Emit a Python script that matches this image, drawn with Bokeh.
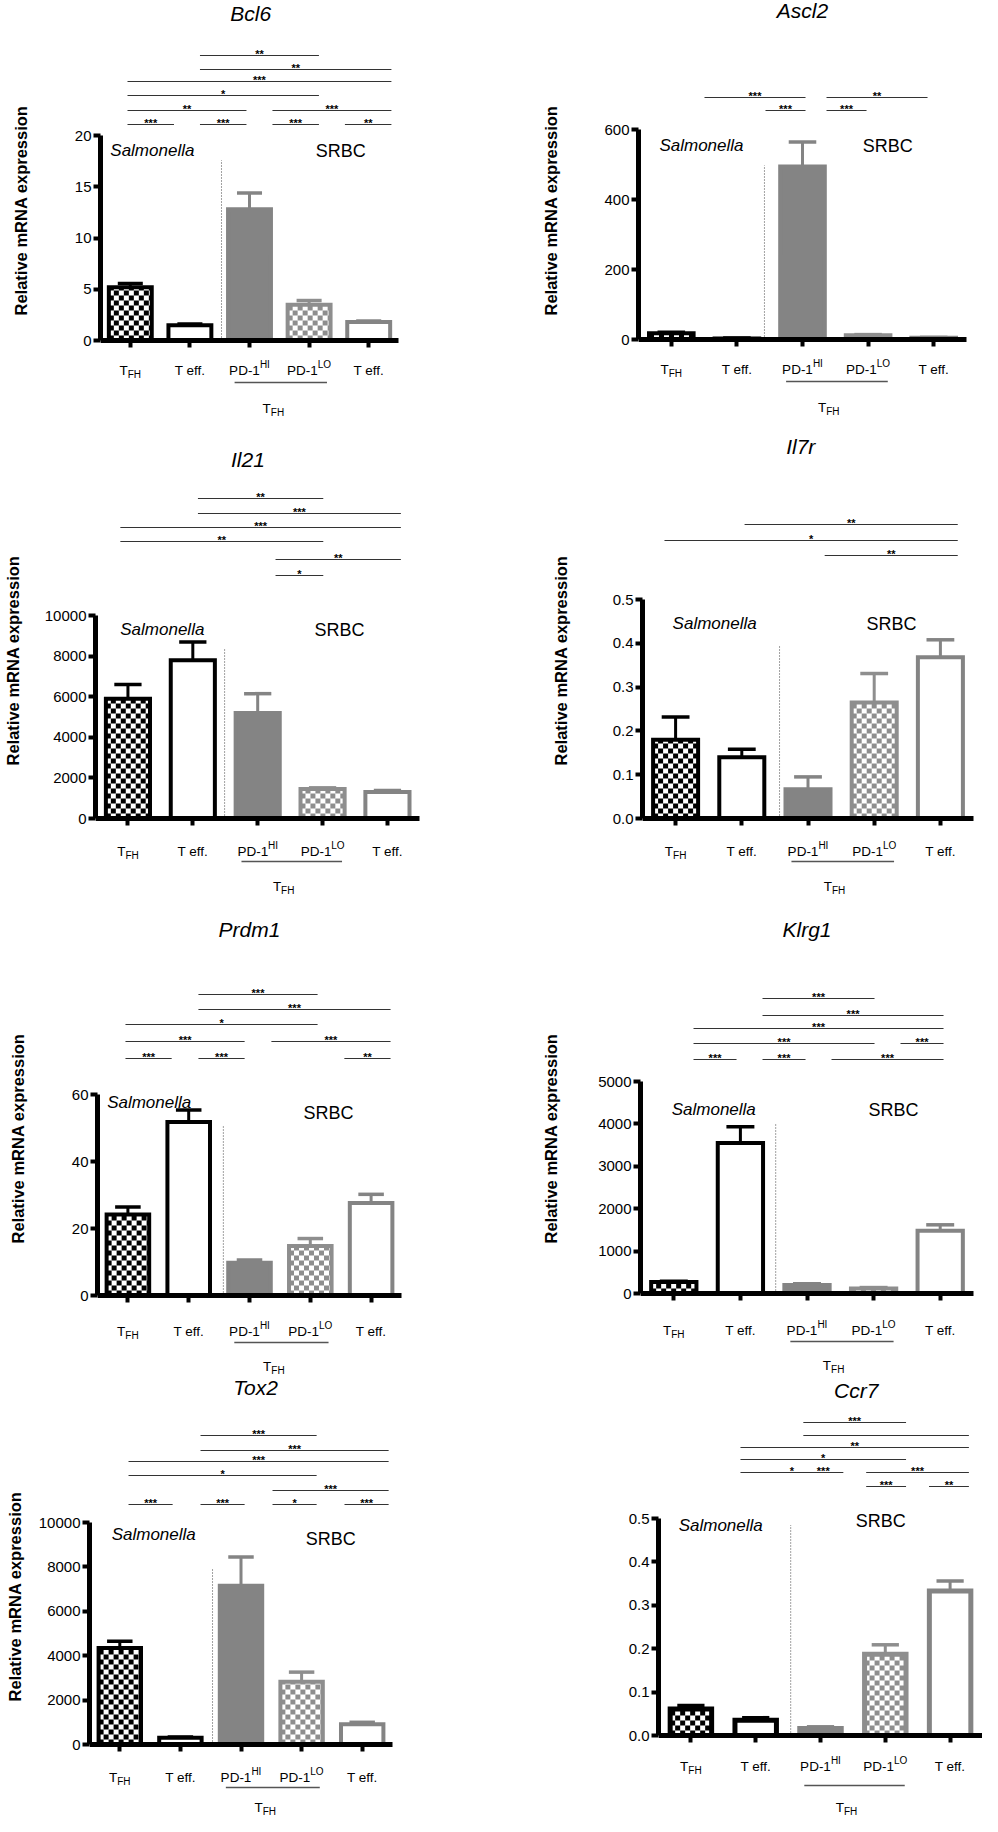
import numpy as np
from bokeh.plotting import figure
from bokeh.models import Range1d, FixedTicker
from bokeh.layouts import column, row
from bokeh.core.properties import value
from bokeh.embed import file_html
from bokeh.resources import INLINE

FONT = "Liberation Sans"
BLACK = "#000000"
GRAY = "#848484"
LIGHT = "#8e8e8e"

# ------------------------------------------------------------------ data
group_main = ["T", "T eff.", "PD-1", "PD-1", "T eff."]
group_sub = ["FH", "", "", "", ""]
group_sup = ["", "", "HI", "LO", ""]
infection_labels = ["Salmonella", "SRBC"]
bracket_main, bracket_sub = "T", "FH"
y_axis_label = "Relative mRNA expression"

bcl6_mean = [5.2, 1.5, 12.8, 3.5, 1.8]
bcl6_err = [0.35, 0.1, 1.6, 0.4, 0.1]
bcl6_ticks = [0, 5, 10, 15, 20]
bcl6_tick_labels = ["0", "5", "10", "15", "20"]
bcl6_comparisons = [(1, 3, "**"), (1, 4, "**"), (0, 4, "***"), (0, 3, "*"), (0, 2, "**"),
                    (2, 4, "***"), (0, 1, "***"), (1, 2, "***"), (2, 3, "***"), (3, 4, "**")]

ascl2_mean = [18, 3, 494, 12, 5]
ascl2_err = [3, 1, 70, 2, 1]
ascl2_ticks = [0, 200, 400, 600]
ascl2_tick_labels = ["0", "200", "400", "600"]
ascl2_comparisons = [(0, 2, "***"), (2, 4, "**"), (1, 2, "***"), (2, 3, "***")]

il21_mean = [5900, 7800, 5200, 1450, 1300]
il21_err = [700, 900, 950, 60, 80]
il21_ticks = [0, 2000, 4000, 6000, 8000, 10000]
il21_tick_labels = ["0", "2000", "4000", "6000", "8000", "10000"]
il21_comparisons = [(1, 3, "**"), (1, 4, "***"), (0, 4, "***"), (0, 3, "**"), (2, 4, "**"), (2, 3, "*")]

il7r_mean = [0.18, 0.14, 0.067, 0.265, 0.368]
il7r_err = [0.052, 0.018, 0.028, 0.066, 0.04]
il7r_ticks = [0.0, 0.1, 0.2, 0.3, 0.4, 0.5]
il7r_tick_labels = ["0.0", "0.1", "0.2", "0.3", "0.4", "0.5"]
il7r_comparisons = [(1, 4, "**"), (0, 4, "*"), (2, 4, "**")]

prdm1_mean = [24.2, 51.8, 9.8, 14.8, 27.6]
prdm1_err = [2.2, 3.6, 0.8, 2.2, 2.6]
prdm1_ticks = [0, 20, 40, 60]
prdm1_tick_labels = ["0", "20", "40", "60"]
prdm1_comparisons = [(1, 3, "***"), (1, 4, "***"), (0, 3, "*"), (0, 2, "***"), (2, 4, "***"),
                     (0, 1, "***"), (1, 2, "***"), (3, 4, "**")]

klrg1_mean = [270, 3550, 200, 120, 1480]
klrg1_err = [20, 380, 30, 20, 140]
klrg1_ticks = [0, 1000, 2000, 3000, 4000, 5000]
klrg1_tick_labels = ["0", "1000", "2000", "3000", "4000", "5000"]
klrg1_comparisons = [(1, 3, "***"), (1, 4, "***"), (0, 4, "***"), (0, 3, "***"), (3, 4, "***"),
                     (0, 1, "***"), (1, 2, "***"), (2, 4, "***")]

tox2_mean = [4350, 300, 7150, 2830, 910]
tox2_err = [300, 40, 1300, 430, 90]
tox2_ticks = [0, 2000, 4000, 6000, 8000, 10000]
tox2_tick_labels = ["0", "2000", "4000", "6000", "8000", "10000"]
tox2_comparisons = [(1, 3, "***"), (1, 4, "***"), (0, 4, "***"), (0, 3, "*"), (2, 4, "***"),
                    (0, 1, "***"), (1, 2, "***"), (2, 3, "*"), (3, 4, "***")]

ccr7_mean = [0.061, 0.035, 0.016, 0.187, 0.333]
ccr7_err = [0.008, 0.006, 0.004, 0.022, 0.023]
ccr7_ticks = [0.0, 0.1, 0.2, 0.3, 0.4, 0.5]
ccr7_tick_labels = ["0.0", "0.1", "0.2", "0.3", "0.4", "0.5"]
ccr7_comparisons = [(1, 3, "***"), (1, 4, ""), (0, 4, "**"), (0, 3, "*"), (0, 2, "*"),
                    (1, 2, "***"), (2, 4, "***"), (2, 3, "***"), (3, 4, "**")]

# ------------------------------------------------------------------ styling / layout
group_style = ["checker", "open", "solid", "checker", "open"]
group_color = [BLACK, BLACK, GRAY, LIGHT, GRAY]

COL_X0 = [0, 508]
COL_W = [496, 486]
ROW_Y0 = [2, 424, 906, 1388]
ROW_H = [420, 480, 476, 440]
CELL = 5.0
LABEL_FS = 13.5
SMALL_FS = 10.0

W = {"T": .611, "F": .611, "H": .722, "P": .667, "D": .722, "-": .333, "1": .556, "I": .278,
     "L": .556, "O": .778, " ": .278, "e": .556, "f": .278, ".": .278, "0": .556, "2": .556,
     "3": .556, "4": .556, "5": .556, "6": .556, "8": .556}


def tw(s, fs):
    return sum(W.get(c, .556) for c in s) * fs


def make_panel(name, mean, err, ticks, tick_labels, comps, lay):
    fx0, fw = COL_X0[lay["col"]], COL_W[lay["col"]]
    fy0, fh = ROW_Y0[lay["row"]], ROW_H[lay["row"]]
    sp = lay["spacing"]
    top = ticks[-1]
    u = top / (lay["y0"] - lay["ytop"])

    def Y(ref_y):
        return (lay["y0"] - ref_y) * u

    left = lay["axis_x"] - fx0
    x0 = -0.5
    x1 = -0.5 + (fw - left) / sp
    p = figure(width=fw, height=fh, x_range=Range1d(x0, x1), y_range=Range1d(Y(fy0 + fh), Y(fy0)),
               output_backend="svg", toolbar_location=None, min_border=0, min_border_left=left,
               min_border_right=0, min_border_top=0, min_border_bottom=0,
               outline_line_color=None, background_fill_color="white", border_fill_color="white")
    p.title.visible = False
    p.xgrid.visible = False
    p.ygrid.visible = False

    # axes
    xa = p.xaxis[0]
    xa.fixed_location = 0
    xa.bounds = (-0.5, 4.5)
    xa.ticker = FixedTicker(ticks=[0, 1, 2, 3, 4])
    xa.major_label_overrides = {i: "" for i in range(5)}
    xa.axis_line_width = 5
    xa.axis_line_color = BLACK
    xa.major_tick_out = 7
    xa.major_tick_in = 0
    xa.major_tick_line_width = 4
    xa.minor_tick_line_color = None

    ya = p.yaxis[0]
    ya.bounds = (0, top)
    ya.ticker = FixedTicker(ticks=ticks)
    ya.major_label_overrides = {t: l for t, l in zip(ticks, tick_labels)}
    ya.axis_line_width = 5
    ya.axis_line_color = BLACK
    ya.major_tick_out = 7
    ya.major_tick_in = 0
    ya.major_tick_line_width = 4
    ya.minor_tick_line_color = None
    ya.major_label_standoff = 2
    ya.major_label_text_font = FONT
    ya.major_label_text_font_size = "15px"
    ya.major_label_text_color = BLACK
    if lay["ylab_d"] is not None:
        maxw = max(tw(l, 15) for l in tick_labels)
        ya.axis_label = y_axis_label
        ya.axis_label_text_font = FONT
        ya.axis_label_text_font_style = "bold"
        ya.axis_label_text_font_size = "16.5px"
        ya.axis_label_text_color = BLACK
        ya.axis_label_standoff = int(round(lay["ylab_d"] - 7 - 2 - maxw - 10))

    idx = list(range(len(mean)))
    bw = lay["bar_w"]

    # error bars
    for i in idx:
        c = group_color[i]
        p.segment(x0=[i], y0=[mean[i]], x1=[i], y1=[mean[i] + err[i]], line_color=c, line_width=3)
        p.segment(x0=[i - 0.21], y0=[mean[i] + err[i]], x1=[i + 0.21], y1=[mean[i] + err[i]],
                  line_color=c, line_width=3.5)

    # bar fills
    fills = ["white" if s != "solid" else group_color[i] for i, s in enumerate(group_style)]
    p.vbar(x=idx, top=mean, bottom=0, width=bw, fill_color=fills, line_color=None)

    # checker patterns
    cx = CELL / sp
    cy = CELL * u
    for i in idx:
        if group_style[i] != "checker":
            continue
        xl = i - bw / 2
        ncol = int(np.ceil(bw / cx))
        nrow = int(np.ceil(mean[i] / cy))
        L, R, B, T = [], [], [], []
        for r in range(nrow):
            for c in range(ncol):
                if (r + c) % 2 == 0:
                    l = xl + c * cx
                    b = r * cy
                    L.append(l)
                    R.append(min(l + cx, xl + bw))
                    B.append(b)
                    T.append(min(b + cy, mean[i]))
        if L:
            p.quad(left=L, right=R, bottom=B, top=T, fill_color=group_color[i], line_color=None)

    # bar outlines
    p.vbar(x=idx, top=mean, bottom=0, width=bw, fill_color=None, line_color=group_color,
           line_width=lay.get("outline", 4), line_join="miter")

    # dotted separator
    dx, dfrac = lay["dot"]
    p.segment(x0=[dx], y0=[0], x1=[dx], y1=[dfrac * top], line_color="#444444", line_width=1,
              line_dash="1 2")

    # infection labels
    sx, sy = lay["salm"]
    p.text(x=[sx], y=[Y(sy)], text=[infection_labels[0]], text_font=value(FONT),
           text_font_style="italic", text_font_size="17px", text_align="center",
           text_baseline="middle", text_color=BLACK)
    rx, ry = lay["srbc"]
    p.text(x=[rx], y=[Y(ry)], text=[infection_labels[1]], text_font=value(FONT),
           text_font_size="18px", text_align="center", text_baseline="middle", text_color=BLACK)

    # title
    tx, ty = lay["title"]
    p.text(x=[tx], y=[Y(ty)], text=[name], text_font=value(FONT), text_font_style="italic",
           text_font_size="21px", text_align="center", text_baseline="middle", text_color=BLACK)

    # significance annotations
    ac, ak, ag = lay["ann"]
    for (a, b, stars), rr in zip(comps, lay["comp_rows"]):
        xs = ac + ak * a
        xe = ac + ak * b - ag
        yl = top + lay["rows_px"][rr] * u
        p.segment(x0=[xs], y0=[yl], x1=[xe], y1=[yl], line_color="#333333", line_width=1.2)
        if stars:
            p.text(x=[(xs + xe) / 2], y=[yl + 1.5 * u], text=[stars], text_font=value(FONT),
                   text_font_size="11px", text_font_style="bold", text_align="center",
                   text_baseline="alphabetic", text_color=BLACK)

    # category labels under the axis
    base = Y(lay["y0"] + lay["label_dy"] + 5)

    def composite(xc, yb, main, sub, sup):
        if sub or sup:
            small = sub or sup
            wm = tw(main, LABEL_FS)
            ws = tw(small, SMALL_FS)
            start = -(wm + ws) / 2
            p.text(x=[xc + start / sp], y=[yb], text=[main], text_font=value(FONT),
                   text_font_size=f"{LABEL_FS}px", text_align="left", text_baseline="alphabetic",
                   text_color=BLACK)
            dy = -4 if sub else 6
            p.text(x=[xc + (start + wm) / sp], y=[yb + dy * u], text=[small], text_font=value(FONT),
                   text_font_size=f"{SMALL_FS}px", text_align="left", text_baseline="alphabetic",
                   text_color=BLACK)
        else:
            p.text(x=[xc], y=[yb], text=[main], text_font=value(FONT),
                   text_font_size=f"{LABEL_FS}px", text_align="center", text_baseline="alphabetic",
                   text_color=BLACK)

    for i in idx:
        composite(i, base, group_main[i], group_sub[i], group_sup[i])

    # T_FH bracket below PD-1 groups
    yb = Y(lay["y0"] + lay["bracket_dy"])
    p.segment(x0=[1.75], y0=[yb], x1=[3.3], y1=[yb], line_color="#555555", line_width=1.5)
    composite(2.4, Y(lay["y0"] + lay["bracket_dy"] + lay["sub_dy"] + 5), bracket_main, bracket_sub, "")
    return p


layouts = {
    "Bcl6": dict(col=0, row=0, axis_x=100, spacing=59.6, y0=342, ytop=137, title=(2.02, 15),
                 salm=(0.37, 152), srbc=(3.53, 152), dot=(1.53, 0.88), ann=(-0.047, 1.216, 0.436),
                 rows_px=[80, 66, 54, 40, 25, 11], comp_rows=[0, 1, 2, 3, 4, 4, 5, 5, 5, 5],
                 bar_w=0.72, label_dy=25, bracket_dy=42, sub_dy=21, ylab_d=78),
    "Ascl2": dict(col=1, row=0, axis_x=650, spacing=65.6, y0=341, ytop=131, title=(2.0, 12),
                  salm=(0.46, 147), srbc=(3.3, 147), dot=(1.42, 0.83), ann=(0.506, 0.93, 0.32),
                  rows_px=[32, 19], comp_rows=[0, 0, 1, 1],
                  bar_w=0.68, label_dy=25, bracket_dy=42, sub_dy=21, ylab_d=85),
    "Il21": dict(col=0, row=1, axis_x=93, spacing=65.2, y0=822, ytop=619, title=(1.85, 463),
                 salm=(0.53, 633), srbc=(3.26, 633), dot=(1.49, 0.84), ann=(-0.117, 1.196, 0.46),
                 rows_px=[117, 102, 88, 74, 56, 40], comp_rows=[0, 1, 2, 3, 4, 5],
                 bar_w=0.68, label_dy=28, bracket_dy=43, sub_dy=20, ylab_d=81),
    "Il7r": dict(col=1, row=1, axis_x=654, spacing=66.2, y0=822, ytop=603, title=(1.89, 450),
                 salm=(0.59, 627), srbc=(3.26, 627), dot=(1.57, 0.79), ann=(-0.168, 1.21, 0.41),
                 rows_px=[75, 59, 44], comp_rows=[0, 1, 2],
                 bar_w=0.68, label_dy=28, bracket_dy=43, sub_dy=20, ylab_d=80),
    "Prdm1": dict(col=0, row=2, axis_x=97, spacing=60.8, y0=1301, ytop=1100, title=(2.0, 935),
                  salm=(0.35, 1108), srbc=(3.3, 1118), dot=(1.57, 0.85), ann=(-0.04, 1.2, 0.44),
                  rows_px=[100, 85, 70, 53, 36], comp_rows=[0, 1, 2, 3, 3, 4, 4, 4],
                  bar_w=0.7, label_dy=31, bracket_dy=47, sub_dy=19, ylab_d=78),
    "Klrg1": dict(col=1, row=2, axis_x=652, spacing=66.6, y0=1299, ytop=1087, title=(2.0, 935),
                  salm=(0.6, 1115), srbc=(3.3, 1115), dot=(1.53, 0.8), ann=(0.296, 1.036, 0.39),
                  rows_px=[83, 66, 53, 38, 22], comp_rows=[0, 1, 2, 3, 3, 4, 4, 4],
                  bar_w=0.68, label_dy=32, bracket_dy=48, sub_dy=19, ylab_d=87),
    "Tox2": dict(col=0, row=3, axis_x=89, spacing=60.6, y0=1756, ytop=1534, title=(2.24, 1399),
                 salm=(0.56, 1546), srbc=(3.48, 1550), dot=(1.53, 0.79), ann=(0.144, 1.188, 0.46),
                 rows_px=[87, 72, 61, 47, 32, 18], comp_rows=[0, 1, 2, 3, 4, 5, 5, 5, 5],
                 bar_w=0.7, label_dy=28, bracket_dy=43, sub_dy=15, ylab_d=73),
    "Ccr7": dict(col=1, row=3, axis_x=670, spacing=64.8, y0=1747, ytop=1530, title=(2.55, 1402),
                 salm=(0.46, 1537), srbc=(2.93, 1532), dot=(1.54, 0.97), ann=(0.765, 0.97, 0.355),
                 rows_px=[96, 83, 71, 59, 46, 32], comp_rows=[0, 1, 2, 3, 4, 4, 4, 5, 5],
                 bar_w=0.64, label_dy=26, bracket_dy=50, sub_dy=17, ylab_d=None, outline=5),
}

panels = [
    ("Bcl6", bcl6_mean, bcl6_err, bcl6_ticks, bcl6_tick_labels, bcl6_comparisons),
    ("Ascl2", ascl2_mean, ascl2_err, ascl2_ticks, ascl2_tick_labels, ascl2_comparisons),
    ("Il21", il21_mean, il21_err, il21_ticks, il21_tick_labels, il21_comparisons),
    ("Il7r", il7r_mean, il7r_err, il7r_ticks, il7r_tick_labels, il7r_comparisons),
    ("Prdm1", prdm1_mean, prdm1_err, prdm1_ticks, prdm1_tick_labels, prdm1_comparisons),
    ("Klrg1", klrg1_mean, klrg1_err, klrg1_ticks, klrg1_tick_labels, klrg1_comparisons),
    ("Tox2", tox2_mean, tox2_err, tox2_ticks, tox2_tick_labels, tox2_comparisons),
    ("Ccr7", ccr7_mean, ccr7_err, ccr7_ticks, ccr7_tick_labels, ccr7_comparisons),
]

figs = [make_panel(n, m, e, t, tl, c, layouts[n]) for n, m, e, t, tl, c in panels]
page = column(row(figs[0], figs[1]), row(figs[2], figs[3]), row(figs[4], figs[5]), row(figs[6], figs[7]))

open("out.html", "w").write(file_html(page, INLINE))
